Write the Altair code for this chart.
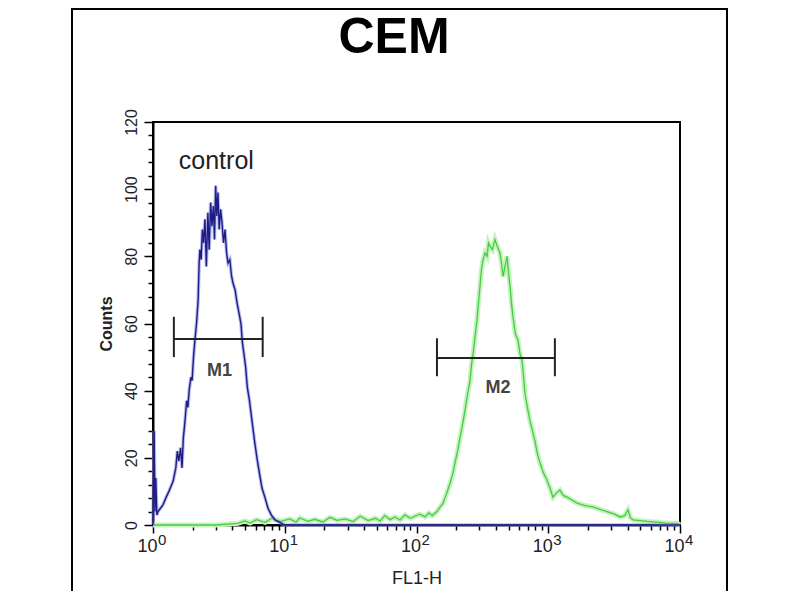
import pandas as pd
import altair as alt

# FL1-H channel values and counts
blue_fl = [1.00, 1.02, 1.035, 1.05, 1.07, 1.09, 1.14, 1.19, 1.25, 1.32, 1.42, 1.49,
           1.53, 1.57, 1.62, 1.66, 1.70, 1.75, 1.80, 1.84, 1.88, 1.94, 1.98, 2.03,
           2.08, 2.14, 2.20, 2.24, 2.27, 2.32, 2.37, 2.42, 2.48, 2.54, 2.61, 2.67,
           2.74, 2.80, 2.87, 2.93, 2.99, 3.05, 3.11, 3.18, 3.26, 3.34, 3.43, 3.52,
           3.62, 3.71, 3.83, 3.95, 4.05, 4.20, 4.35, 4.50, 4.65, 4.78, 4.90, 5.05,
           5.20, 5.40, 5.64, 5.90, 6.15, 6.45, 6.72, 7.10, 7.46, 7.90, 8.43, 9.20,
           10.0, 10000]
blue_count = [0, 28, 4, 14, 3, 4, 5, 6, 8, 10, 13, 17,
              22, 19, 23, 17, 26, 31, 37, 35, 40, 44, 43, 50,
              55, 60, 67, 78, 82, 79, 88, 84, 91, 77, 93, 82,
              96, 89, 95, 85, 101, 92, 99, 88, 94, 90, 84, 88,
              81, 78, 79, 74, 72, 70, 66, 63, 60, 54, 51, 47,
              41, 37, 31, 25, 20, 15, 11, 8, 5, 3, 1.5, 0.8,
              0, 0]

green_fl = [1.0, 3.0, 4.4, 5.0, 5.45, 6.1, 7.1, 8.0, 9.2, 10.9, 12.2, 13, 15, 16.9,
            19.5, 22, 25, 28.7, 33, 37.4, 43, 48.6, 53, 57.5, 63, 68.5, 75, 81.6, 90,
            97, 106, 116, 124, 132, 143, 150, 159, 168, 180, 188, 196, 205, 214, 224,
            233, 244, 255, 262, 269, 278, 288, 295, 303, 311, 320, 331, 343, 352, 361,
            377, 394, 410, 430, 442, 454, 470, 487, 500, 513, 526, 540, 562, 589, 610,
            632, 650, 666, 695, 727, 760, 793, 830, 865, 920, 977, 1030, 1086, 1150,
            1227, 1300, 1387, 1500, 1652, 1900, 2186, 2500, 2793, 3150, 3506, 3800,
            4030, 4200, 4397, 5200, 5917, 7000, 7965, 9490, 10000]
green_count = [0, 0, 0.5, 1.2, 0.6, 1.6, 0.8, 2.0, 1.0, 1.8, 0.9, 2.1, 1.1, 1.7,
               0.9, 2.3, 1.4, 1.8, 1.0, 2.6, 1.3, 2.0, 1.2, 2.8, 1.6, 2.4, 1.5, 3.0, 2.0,
               2.6, 3.2, 2.4, 3.6, 2.8, 4.0, 5.2, 6.5, 9, 12.5, 15, 18.5, 22, 26, 30,
               34, 39, 43, 48, 51, 56, 61, 66, 71, 76, 79, 81, 80, 84, 83,
               82, 85, 83, 81, 78, 74, 77, 80, 75, 71, 66, 62, 57, 55, 51,
               49, 44, 39, 35, 31, 28, 25, 21, 18.5, 15.5, 13.4, 11, 8.3, 9.5,
               10.4, 8.8, 8.3, 7.5, 6.5, 5.8, 5.4, 4.6, 4.0, 3.3, 2.4, 2.8,
               4.5, 2.2, 1.5, 1.2, 1.0, 0.8, 0.5, 0.5, 0]

# gate markers M1 / M2
gate_names = ["M1", "M2"]
gate_lo = [1.44, 143]
gate_hi = [6.8, 1123]
gate_y = [55.4, 49.7]
gate_cap_lo = [50, 44.3]
gate_cap_hi = [62, 55.6]
gate_label_x = [3.2, 416]
gate_label_y = [45.8, 40.8]

decades = [1, 10, 100, 1000, 10000]
exponents = ["0", "1", "2", "3", "4"]
x_ticks = decades + [m * d for d in decades[:-1] for m in range(2, 10)]
y_ticks = list(range(0, 121, 4))

FONT = "Liberation Sans"

blue = pd.DataFrame({"fl": blue_fl, "count": blue_count})
green = pd.DataFrame({"fl": green_fl, "count": green_count})
gates = pd.DataFrame({"name": gate_names, "lo": gate_lo, "hi": gate_hi, "y": gate_y,
                      "lx": gate_label_x, "ly": gate_label_y})
caps = pd.DataFrame({"x": gate_lo + gate_hi, "y1": gate_cap_lo * 2, "y2": gate_cap_hi * 2})
exps = pd.DataFrame({"x": decades, "e": exponents})

xscale = alt.Scale(type="log", domain=[1, 10000], nice=False)
yscale = alt.Scale(domain=[0, 120], nice=False)

is_decade = "indexof([1,10,100,1000,10000], datum.value) >= 0"
x_axis = alt.Axis(
    values=x_ticks, title="FL1-H", titleFont=FONT, titleFontSize=18,
    titleFontWeight="normal", titleColor="#222", titlePadding=14,
    labelExpr=f"{is_decade} ? '10' : ''", labelFont=FONT, labelFontSize=18,
    labelColor="#222", labelAlign="right", labelOffset=4, labelPadding=4,
    labelOverlap=False, labelFlush=False, grid=False,
    domainColor="black", domainWidth=2, tickColor="black", tickWidth=1.5,
    tickSize={"condition": {"test": is_decade, "value": 8}, "value": 5},
)
y_axis = alt.Axis(
    values=y_ticks, title="Counts", titleFont=FONT, titleFontSize=16,
    titleFontWeight="bold", titleColor="#222", titlePadding=9,
    labelExpr="datum.value % 20 === 0 ? datum.label : ''", labelFont=FONT,
    labelFontSize=16, labelColor="#222", labelAngle=270, labelAlign="center",
    labelBaseline="bottom", labelPadding=5, labelOverlap=False, labelFlush=False,
    grid=False, domainColor="black", domainWidth=2, tickColor="black", tickWidth=1.5,
    tickSize={"condition": {"test": "datum.value % 20 === 0", "value": 9}, "value": 5},
)


def xenc(field):
    return alt.X(f"{field}:Q", scale=xscale, axis=x_axis)


def yenc(field):
    return alt.Y(f"{field}:Q", scale=yscale, axis=y_axis)


green_glow = alt.Chart(green).mark_line(color="#c6f3bd", strokeWidth=5).encode(
    x=xenc("fl"), y=yenc("count"), order="fl:Q")
green_line = alt.Chart(green).mark_line(color="#45cc45", strokeWidth=1.3).encode(
    x=xenc("fl"), y=yenc("count"), order="fl:Q")
blue_glow = alt.Chart(blue).mark_line(color="#8e8ee6", strokeWidth=3.5, opacity=0.6).encode(
    x=xenc("fl"), y=yenc("count"), order="fl:Q")
blue_line = alt.Chart(blue).mark_line(color="#1d1d86", strokeWidth=1.4).encode(
    x=xenc("fl"), y=yenc("count"), order="fl:Q")

gate_bars = alt.Chart(gates).mark_rule(color="#222", strokeWidth=2).encode(
    x=xenc("lo"), x2="hi:Q", y=yenc("y"))
gate_caps = alt.Chart(caps).mark_rule(color="#222", strokeWidth=2).encode(
    x=xenc("x"), y=yenc("y1"), y2="y2:Q")
gate_text = alt.Chart(gates).mark_text(font=FONT, fontSize=18, fontWeight="bold",
                                       color="#444", baseline="middle").encode(
    x=xenc("lx"), y=yenc("ly"), text="name:N")

control = alt.Chart(pd.DataFrame({"x": [1.57], "y": [106], "t": ["control"]})).mark_text(
    font=FONT, fontSize=25, color="#222", align="left", baseline="alphabetic").encode(
    x=xenc("x"), y=yenc("y"), text="t:N")

exp_text = alt.Chart(exps).mark_text(font=FONT, fontSize=15, color="#222", align="left",
                                     baseline="top", dx=5).encode(
    x=xenc("x"), y=alt.value(411), text="e:N")

# chart heading, placed above the plot frame
heading = alt.Chart(pd.DataFrame({"t": ["CEM"]})).mark_text(
    font=FONT, fontSize=50, fontWeight="bold", color="black", align="center",
    baseline="alphabetic").encode(x=alt.value(241), y=alt.value(-69), text="t:N")

# thin border round the whole picture
frame = alt.Chart(pd.DataFrame({"a": [0]})).mark_rect(
    fillOpacity=0, stroke="black", strokeWidth=2).encode(
    x=alt.value(-81), x2=alt.value(574), y=alt.value(-113), y2=alt.value(520))

chart = alt.layer(
    green_glow, green_line, blue_glow, blue_line, gate_bars, gate_caps, gate_text,
    control, exp_text, heading, frame
).properties(
    width=527,
    height=403,
    autosize="none",
    padding={"left": 145, "top": 114, "right": 112, "bottom": 66},
    background="white",
).configure_view(
    stroke="black", strokeWidth=2
)

chart.save("out.html", embed_options={"renderer": "svg", "actions": False})
